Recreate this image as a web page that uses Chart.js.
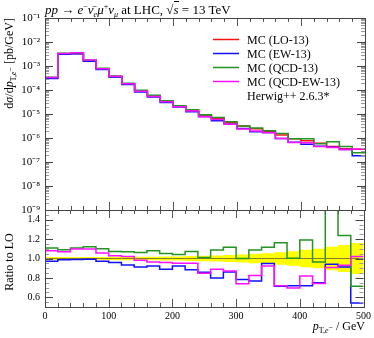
<!DOCTYPE html>
<html>
<head>
<meta charset="utf-8">
<script src="https://cdn.jsdelivr.net/npm/chart.js@4"></script>
<style>
  body { margin: 0; background: #fff; }
  #wrap { position: relative; width: 374px; height: 338px; font-family: "Liberation Serif", serif; color: #000; }
  #wrap canvas { position: absolute; left: 0; top: 0; }
  .lbl { position: absolute; white-space: nowrap; font-size: 12px; line-height: 14px; }
  .sp { font-size: 8px; vertical-align: 5px; }
  .sb { font-size: 8px; vertical-align: -3px; }
  .rot { transform-origin: 0 0; }
</style>
</head>
<body>
<div id="wrap">
  <canvas id="mainChart" width="374" height="338"></canvas>
  <canvas id="ratioChart" width="374" height="338"></canvas>

  <div class="lbl" style="left:45px;top:0px;font-size:13px;">
    <i>pp</i> → <i>e</i><span class="sp">−</span><i>ν̄</i><span class="sb"><i>e</i></span><i>μ</i><span class="sp">+</span><i>ν</i><span class="sb"><i>μ</i></span> at LHC, √<span style="border-top:1px solid #000"><i>s</i></span> = 13 TeV
  </div>
  <div class="lbl rot" style="left:0;top:0;width:132px;text-align:right;transform:translate(2px,150px) rotate(-90deg);">
    d<i>σ</i>/d<i>p</i><span class="sb">T,<i>e</i><span style="vertical-align:3px">−</span></span> [pb/GeV]
  </div>
  <div class="lbl rot" style="left:0;top:0;width:80px;text-align:center;transform:translate(2px,302px) rotate(-90deg);">
    Ratio to LO
  </div>
  <div class="lbl" style="right:9px;top:319px;">
    <i>p</i><span class="sb">T,<i>e</i><span style="vertical-align:3px">−</span></span> / GeV
  </div>
</div>

<script>
// bordas dos bins (GeV)
const binEdges = [0, 20, 40, 60, 80, 100, 120, 140, 160, 180, 200, 220, 240, 260, 280, 300, 320, 340, 360, 380, 400, 420, 440, 460, 480, 500];
const xTicks = [0, 100, 200, 300, 400, 500];
const yDecades = [1e-9, 1e-8, 1e-7, 1e-6, 1e-5, 1e-4, 1e-3, 1e-2, 1e-1];
const ratioTicks = [0.6, 0.8, 1, 1.2, 1.4];

// dsigma/dpT [pb/GeV]
const lo    = [3.1e-4, 3.1e-3, 3.25e-3, 1.6e-3, 7.3e-4, 3.6e-4, 1.8e-4, 9.1e-5, 5.6e-5, 3.4e-5, 2.1e-5, 1.4e-5, 9.1e-6, 6.6e-6, 4.3e-6, 3.2e-6, 2.4e-6, 1.8e-6, 1.33e-6, 9.3e-7, 7.7e-7, 6.0e-7, 4.4e-7, 3.6e-7, 3.4e-7];
const ew    = [3.01e-4, 3.06e-3, 3.22e-3, 1.59e-3, 7.1e-4, 3.45e-4, 1.68e-4, 8.3e-5, 5.17e-5, 3.02e-5, 1.94e-5, 1.24e-5, 7.8e-6, 5.28e-6, 3.7e-6, 2.51e-6, 1.84e-6, 1.71e-6, 9.5e-7, 6.7e-7, 5.54e-7, 4.5e-7, 4.14e-7, 3.29e-7, 1.84e-7];
const qcd   = [3.43e-4, 3.38e-3, 3.6e-3, 1.79e-3, 8.0e-4, 3.86e-4, 1.93e-4, 9.7e-5, 6.05e-5, 3.58e-5, 2.19e-5, 1.5e-5, 9.2e-6, 7.2e-6, 4.8e-6, 3.2e-6, 2.61e-6, 2.0e-6, 1.55e-6, 9.3e-7, 9.2e-7, 5.8e-7, 7.0e-7, 4.45e-7, 2.43e-7];
const qcdEw = [3.35e-4, 3.32e-3, 3.57e-3, 1.76e-3, 7.7e-4, 3.7e-4, 1.84e-4, 8.95e-5, 5.4e-5, 3.26e-5, 2.0e-5, 1.33e-5, 7.7e-6, 5.87e-6, 3.75e-6, 2.36e-6, 1.98e-6, 1.66e-6, 9.6e-7, 6.5e-7, 6.3e-7, 4.45e-7, 4.0e-7, 3.35e-7, 3.47e-7];

// razões em relação ao LO
const ratioLo    = [1, 1, 1, 1, 1, 1, 1, 1, 1, 1, 1, 1, 1, 1, 1, 1, 1, 1, 1, 1, 1, 1, 1, 1, 1];
const ratioEw    = [0.972, 0.986, 0.99, 0.993, 0.972, 0.958, 0.934, 0.913, 0.923, 0.889, 0.923, 0.885, 0.857, 0.80, 0.86, 0.784, 0.767, 0.948, 0.715, 0.72, 0.72, 0.75, 0.94, 0.913, 0.54];
const ratioQcd   = [1.108, 1.09, 1.108, 1.12, 1.10, 1.073, 1.07, 1.063, 1.08, 1.052, 1.042, 1.073, 1.01, 1.087, 1.115, 1.0, 1.087, 1.115, 1.163, 1.003, 1.19, 0.965, 1.6, 1.237, 0.715];
const ratioQcdEw = [1.08, 1.07, 1.097, 1.097, 1.056, 1.028, 1.021, 0.983, 0.965, 0.958, 0.951, 0.951, 0.847, 0.889, 0.871, 0.739, 0.826, 0.923, 0.72, 0.697, 0.82, 0.742, 0.906, 0.93, 1.021];
// meia largura da banda de incerteza (amarela)
const bandaHalf  = [0.016, 0.016, 0.016, 0.016, 0.016, 0.017, 0.018, 0.018, 0.019, 0.02, 0.021, 0.025, 0.028, 0.032, 0.036, 0.042, 0.048, 0.055, 0.065, 0.075, 0.09, 0.1, 0.12, 0.14, 0.16];

const cores = { lo: '#ff1010', ew: '#1010ff', qcd: '#239323', qcdEw: '#ff10ff', ref: '#8a7d28' };
const fonte = '"Liberation Serif", serif';

// transforma valores por bin em pontos de um histograma em degraus
function degraus(vals) {
  return binEdges.map((e, i) => ({ x: e, y: vals[Math.min(i, vals.length - 1)] }));
}

function linha(label, vals, cor, ordem) {
  return {
    label: label,
    data: degraus(vals),
    borderColor: cor,
    backgroundColor: cor,
    borderWidth: 1.5,
    stepped: true,
    pointRadius: 0,
    fill: false,
    order: ordem
  };
}

const sup = { '-': '⁻', '0': '⁰', '1': '¹', '2': '²', '3': '³', '4': '⁴', '5': '⁵', '6': '⁶', '7': '⁷', '8': '⁸', '9': '⁹' };
function potencia(v) {
  const n = String(Math.round(Math.log10(v)));
  return '10' + n.split('').map(c => sup[c]).join('');
}

// moldura com marcas para dentro, nos quatro lados
function desenhaMoldura(chart, yMajor, yMinor) {
  const { ctx, chartArea: a } = chart;
  const xs = chart.scales.x, ys = chart.scales.y;
  ctx.save();
  ctx.lineWidth = 1;
  const marca = (x1, y1, x2, y2, cor) => {
    ctx.strokeStyle = cor;
    ctx.beginPath(); ctx.moveTo(x1, y1); ctx.lineTo(x2, y2); ctx.stroke();
  };
  for (let v = 0; v <= 500; v += 20) {
    const x = Math.round(xs.getPixelForValue(v)) + 0.5;
    const len = (v % 100 === 0) ? 8 : 4;
    marca(x, a.bottom, x, a.bottom - len, '#555');
    marca(x, a.top, x, a.top + len, '#555');
  }
  yMinor.forEach(v => {
    const y = Math.round(ys.getPixelForValue(v)) + 0.5;
    marca(a.left, y, a.left + 4, y, '#999');
    marca(a.right, y, a.right - 4, y, '#999');
  });
  yMajor.forEach(v => {
    const y = Math.round(ys.getPixelForValue(v)) + 0.5;
    marca(a.left, y, a.left + 8, y, '#444');
    marca(a.right, y, a.right - 8, y, '#444');
  });
  ctx.strokeStyle = '#444';
  ctx.strokeRect(Math.round(a.left) + 0.5, Math.round(a.top) + 0.5, Math.round(a.right - a.left), Math.round(a.bottom - a.top));
  ctx.restore();
}

const molduraMain = {
  id: 'molduraMain',
  afterDatasetsDraw(chart) {
    const menores = [];
    yDecades.slice(0, -1).forEach(d => { for (let k = 2; k <= 9; k++) menores.push(k * d); });
    desenhaMoldura(chart, yDecades, menores);
  }
};

const molduraRatio = {
  id: 'molduraRatio',
  afterDatasetsDraw(chart) {
    const menores = [];
    for (let v = 0.5; v <= 1.5001; v += 0.05) menores.push(v);
    desenhaMoldura(chart, ratioTicks, menores);
  }
};

// legenda dentro do gráfico
const legendaPlugin = {
  id: 'legenda',
  afterDraw(chart) {
    const ctx = chart.ctx;
    ctx.save();
    ctx.font = '12px ' + fonte;
    ctx.textBaseline = 'middle';
    ctx.fillStyle = '#000';
    const itens = chart.data.datasets.filter(d => d.label);
    itens.forEach((d, i) => {
      const y = 39.5 + i * 14;
      if (d.data.length) {
        ctx.strokeStyle = d.borderColor;
        ctx.lineWidth = 1.5;
        ctx.beginPath(); ctx.moveTo(213, y); ctx.lineTo(239, y); ctx.stroke();
      }
      ctx.fillText(d.label, 247, y + 1);
    });
    ctx.restore();
  }
};

function eixoY(extra) {
  return Object.assign({
    grid: { display: false, drawTicks: false },
    border: { display: false },
    afterFit: s => { s.width = 45; },
  }, extra);
}

// gráfico principal
new Chart(document.getElementById('mainChart'), {
  type: 'line',
  data: {
    datasets: [
      linha('MC (LO-13)', lo, cores.lo, 3),
      linha('MC (EW-13)', ew, cores.ew, 2),
      linha('MC (QCD-13)', qcd, cores.qcd, 1),
      linha('MC (QCD-EW-13)', qcdEw, cores.qcdEw, 0),
      { label: 'Herwig++ 2.6.3*', data: [], borderColor: '#000', pointRadius: 0 }
    ]
  },
  options: {
    responsive: false,
    animation: false,
    layout: { padding: { left: 0, top: 18, right: 9, bottom: 128 } },
    plugins: { legend: { display: false }, tooltip: { enabled: false } },
    scales: {
      x: { type: 'linear', min: 0, max: 500, display: false },
      y: eixoY({
        type: 'logarithmic', min: 1e-9, max: 1e-1,
        afterBuildTicks: s => { s.ticks = yDecades.map(v => ({ value: v })); },
        ticks: {
          autoSkip: false, padding: 5, color: '#000',
          font: { family: fonte, size: 11 },
          callback: v => potencia(v)
        }
      })
    }
  },
  plugins: [molduraMain, legendaPlugin]
});

// painel de razão
const bandaUp = bandaHalf.map(h => 1 + h);
const bandaDn = bandaHalf.map(h => 1 - h);

new Chart(document.getElementById('ratioChart'), {
  type: 'line',
  data: {
    datasets: [
      { data: degraus(bandaDn), borderWidth: 0, pointRadius: 0, stepped: true, fill: false, order: 20 },
      { data: degraus(bandaUp), borderWidth: 0, pointRadius: 0, stepped: true, fill: '-1', backgroundColor: '#ffff00', order: 19 },
      Object.assign(linha('', ratioLo, cores.ref, 4), { borderWidth: 1 }),
      linha('', ratioEw, cores.ew, 2),
      linha('', ratioQcd, cores.qcd, 1),
      linha('', ratioQcdEw, cores.qcdEw, 0)
    ]
  },
  options: {
    responsive: false,
    animation: false,
    layout: { padding: { left: 0, top: 210, right: 9, bottom: 15 } },
    plugins: { legend: { display: false }, tooltip: { enabled: false } },
    scales: {
      x: {
        type: 'linear', min: 0, max: 500,
        grid: { display: false, drawTicks: false },
        border: { display: false },
        afterBuildTicks: s => { s.ticks = xTicks.map(v => ({ value: v })); },
        afterFit: s => { s.height = 16; },
        ticks: { padding: 3, color: '#000', maxRotation: 0, font: { family: fonte, size: 10 } }
      },
      y: eixoY({
        type: 'linear', min: 0.5, max: 1.5,
        afterBuildTicks: s => { s.ticks = ratioTicks.map(v => ({ value: v })); },
        ticks: { autoSkip: false, padding: 5, color: '#000', font: { family: fonte, size: 10 } }
      })
    }
  },
  plugins: [molduraRatio]
});
</script>
</body>
</html>
